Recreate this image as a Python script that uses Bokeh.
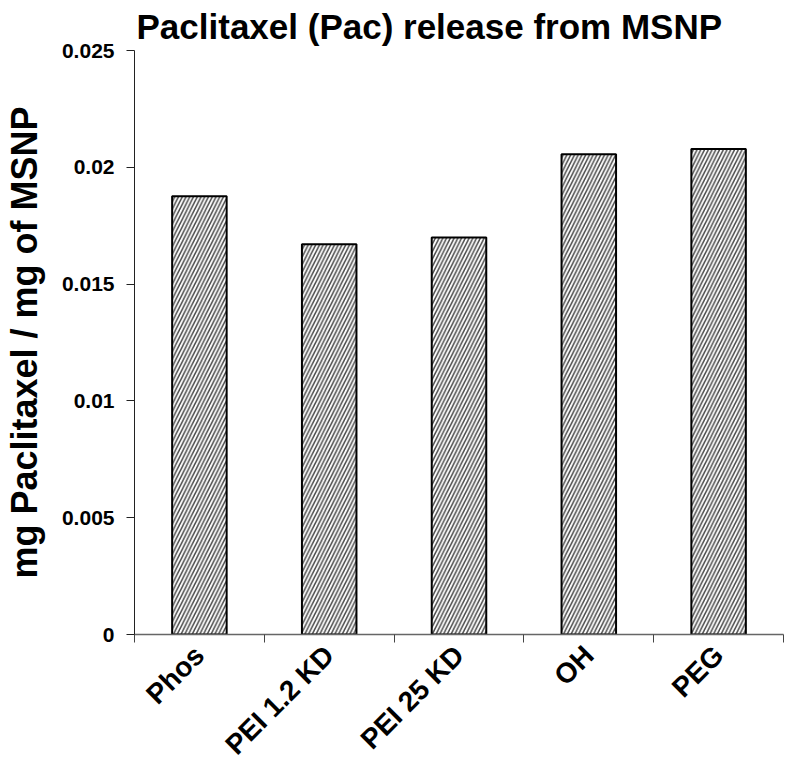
import math
from bokeh.plotting import figure
from bokeh.models import Range1d, FixedTicker
from bokeh.embed import file_html
from bokeh.resources import INLINE

categories = ["Phos", "PEI 1.2 KD", "PEI 25 KD", "OH", "PEG"]
values = [0.01876, 0.01671, 0.01700, 0.02056, 0.02078]
y_ticks = [0, 0.005, 0.01, 0.015, 0.02, 0.025]
y_tick_labels = ["0", "0.005", "0.01", "0.015", "0.02", "0.025"]

FONT = "Liberation Sans"

p = figure(width=787, height=774, output_backend="svg", toolbar_location=None,
           x_range=Range1d(0, len(categories)), y_range=Range1d(0, 0.025),
           min_border_left=132, min_border_right=4, min_border_top=50,
           min_border_bottom=139)
p.outline_line_color = None
p.grid.visible = False

p.title.text = "Paclitaxel (Pac) release from MSNP"
p.title.text_font = FONT
p.title.text_font_size = "35px"
p.title.text_font_style = "bold"
p.title.text_color = "black"
p.title.align = "left"
p.title.offset = 2
p.title.standoff = 9

centers = [i + 0.5 for i in range(len(categories))]
p.vbar(x=centers, top=values, width=0.42, bottom=0,
       fill_color="white", line_color="black", line_width=2,
       hatch_pattern="right_diagonal_line", hatch_color="#4a4a4a",
       hatch_scale=7.5, hatch_weight=1.5)

# y axis
ya = p.yaxis[0]
ya.ticker = FixedTicker(ticks=y_ticks)
ya.major_label_overrides = {t: l for t, l in zip(y_ticks, y_tick_labels)}
ya.minor_tick_line_color = None
ya.major_tick_out = 8
ya.major_tick_in = 0
ya.major_label_standoff = 12
ya.major_label_text_font = FONT
ya.major_label_text_font_style = "bold"
ya.major_label_text_font_size = "21px"
ya.major_label_text_color = "black"
ya.axis_line_color = "#222222"
ya.major_tick_line_color = "#222222"
ya.axis_label = "mg Paclitaxel / mg of MSNP"
ya.axis_label_text_font = FONT
ya.axis_label_text_font_size = "36px"
ya.axis_label_text_font_style = "bold"
ya.axis_label_text_color = "black"
ya.axis_label_standoff = 14

# x axis: labels at category centres, tick marks at category boundaries
xa = p.xaxis[0]
xa.ticker = FixedTicker(ticks=centers, minor_ticks=list(range(len(categories) + 1)))
xa.major_label_overrides = {c: n for c, n in zip(centers, categories)}
xa.major_tick_line_color = None
xa.major_tick_out = 0
xa.major_tick_in = 0
xa.minor_tick_out = 8
xa.minor_tick_in = 0
xa.minor_tick_line_color = "#444444"
xa.minor_tick_line_width = 1
xa.major_label_orientation = math.pi / 4
xa.major_label_standoff = 8
xa.major_label_text_font = FONT
xa.major_label_text_font_style = "bold"
xa.major_label_text_font_size = "28px"
xa.major_label_text_color = "black"
xa.axis_line_color = "#666666"
xa.axis_line_width = 1.5

open("out.html", "w").write(file_html(p, INLINE))
